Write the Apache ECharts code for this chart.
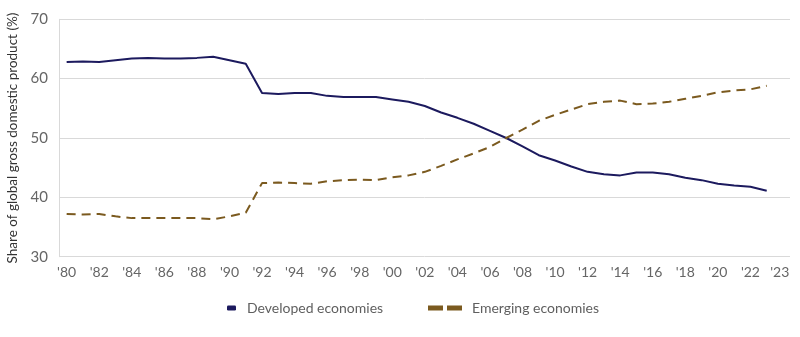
<!DOCTYPE html>
<html>
<head>
<meta charset="utf-8">
<script src="https://cdn.jsdelivr.net/npm/echarts@6/dist/echarts.min.js"></script>
<style>html,body{margin:0;padding:0;background:#fff}#c{width:800px;height:337px}</style>
</head>
<body>
<div id="c"></div>
<script>
var years = [1980,1981,1982,1983,1984,1985,1986,1987,1988,1989,1990,1991,1992,1993,1994,1995,1996,1997,1998,1999,2000,2001,2002,2003,2004,2005,2006,2007,2008,2009,2010,2011,2012,2013,2014,2015,2016,2017,2018,2019,2020,2021,2022,2023];
var developed = [62.8,62.9,62.8,63.1,63.4,63.5,63.4,63.4,63.5,63.7,63.1,62.5,57.6,57.4,57.6,57.6,57.1,56.9,56.9,56.9,56.5,56.1,55.4,54.3,53.4,52.4,51.2,50.0,48.6,47.1,46.2,45.2,44.3,43.9,43.7,44.2,44.2,43.9,43.3,42.9,42.3,42.0,41.8,41.1];
var emerging = [37.2,37.1,37.2,36.8,36.5,36.5,36.5,36.5,36.5,36.3,36.8,37.4,42.4,42.5,42.4,42.3,42.7,42.9,43.0,42.9,43.4,43.7,44.3,45.3,46.4,47.4,48.5,50.0,51.4,52.9,53.9,54.8,55.7,56.1,56.3,55.7,55.8,56.1,56.6,57.1,57.7,58.0,58.2,58.8];
var tickYears = [1980,1982,1984,1986,1988,1990,1992,1994,1996,1998,2000,2002,2004,2006,2008,2010,2012,2014,2016,2018,2020,2022,2023];
var yTicks = [30,40,50,60,70];
var seriesNames = ['Developed economies','Emerging economies'];

function pairs(vals){ return years.map(function(y,i){ return [y, vals[i]]; }); }
var FONT = 'Lato';
var chart = echarts.init(document.getElementById('c'), null, {renderer:'canvas'});
chart.setOption({
  animation:false,
  textStyle:{fontFamily:FONT},
  grid:{left:59, right:10, top:19.3, bottom:80.3, containLabel:false, outerBoundsMode:'none'},
  legend:[{
    data:[{name:seriesNames[0], icon:'roundRect'}],
    left:222, top:296, itemWidth:9, itemHeight:5,
    textStyle:{color:'#5f5f5f', fontSize:14, fontFamily:FONT, padding:[0,0,0,6]}
  },{
    data:[{name:seriesNames[1], icon:'path://M0,0h15v5h-15z M19,0h15v5h-15z'}],
    left:423, top:296, itemWidth:34, itemHeight:5,
    textStyle:{color:'#5f5f5f', fontSize:14, fontFamily:FONT, padding:[0,0,0,5]}
  }],
  xAxis:{
    type:'value', min:1979.53, max:2024.43,
    axisLine:{show:false}, axisTick:{show:false}, splitLine:{show:false},
    axisLabel:{
      customValues:tickYears, margin:9, color:'#666', fontSize:14, fontFamily:FONT,
      formatter:function(v){
        var s = "'" + String(v).slice(2);
        return v === tickYears[tickYears.length-1] ? '{last|' + s + '}' : s;
      },
      rich:{last:{padding:[0,0,0,26], color:'#666', fontSize:14, fontFamily:FONT}}
    }
  },
  yAxis:{
    type:'value', min:yTicks[0], max:yTicks[yTicks.length-1], interval:10,
    name:'Share of global gross domestic product (%)', nameLocation:'middle', nameGap:37,
    nameTextStyle:{color:'#333', fontSize:13.5, fontFamily:FONT},
    axisLine:{show:true, lineStyle:{color:'#d9d9d9', width:1}},
    axisTick:{show:false},
    splitLine:{lineStyle:{color:'#d9d9d9', width:1}},
    axisLabel:{color:'#666', fontSize:15, margin:11, fontFamily:FONT}
  },
  series:[{
    name:seriesNames[0], type:'line', data:pairs(developed), showSymbol:false,
    lineStyle:{color:'#1c1a5e', width:2}, itemStyle:{color:'#1c1a5e'}
  },{
    name:seriesNames[1], type:'line', data:pairs(emerging), showSymbol:false,
    lineStyle:{color:'#7b5a1f', width:2, type:[9,6]}, itemStyle:{color:'#7b5a1f'}
  }]
});
</script>
</body>
</html>
